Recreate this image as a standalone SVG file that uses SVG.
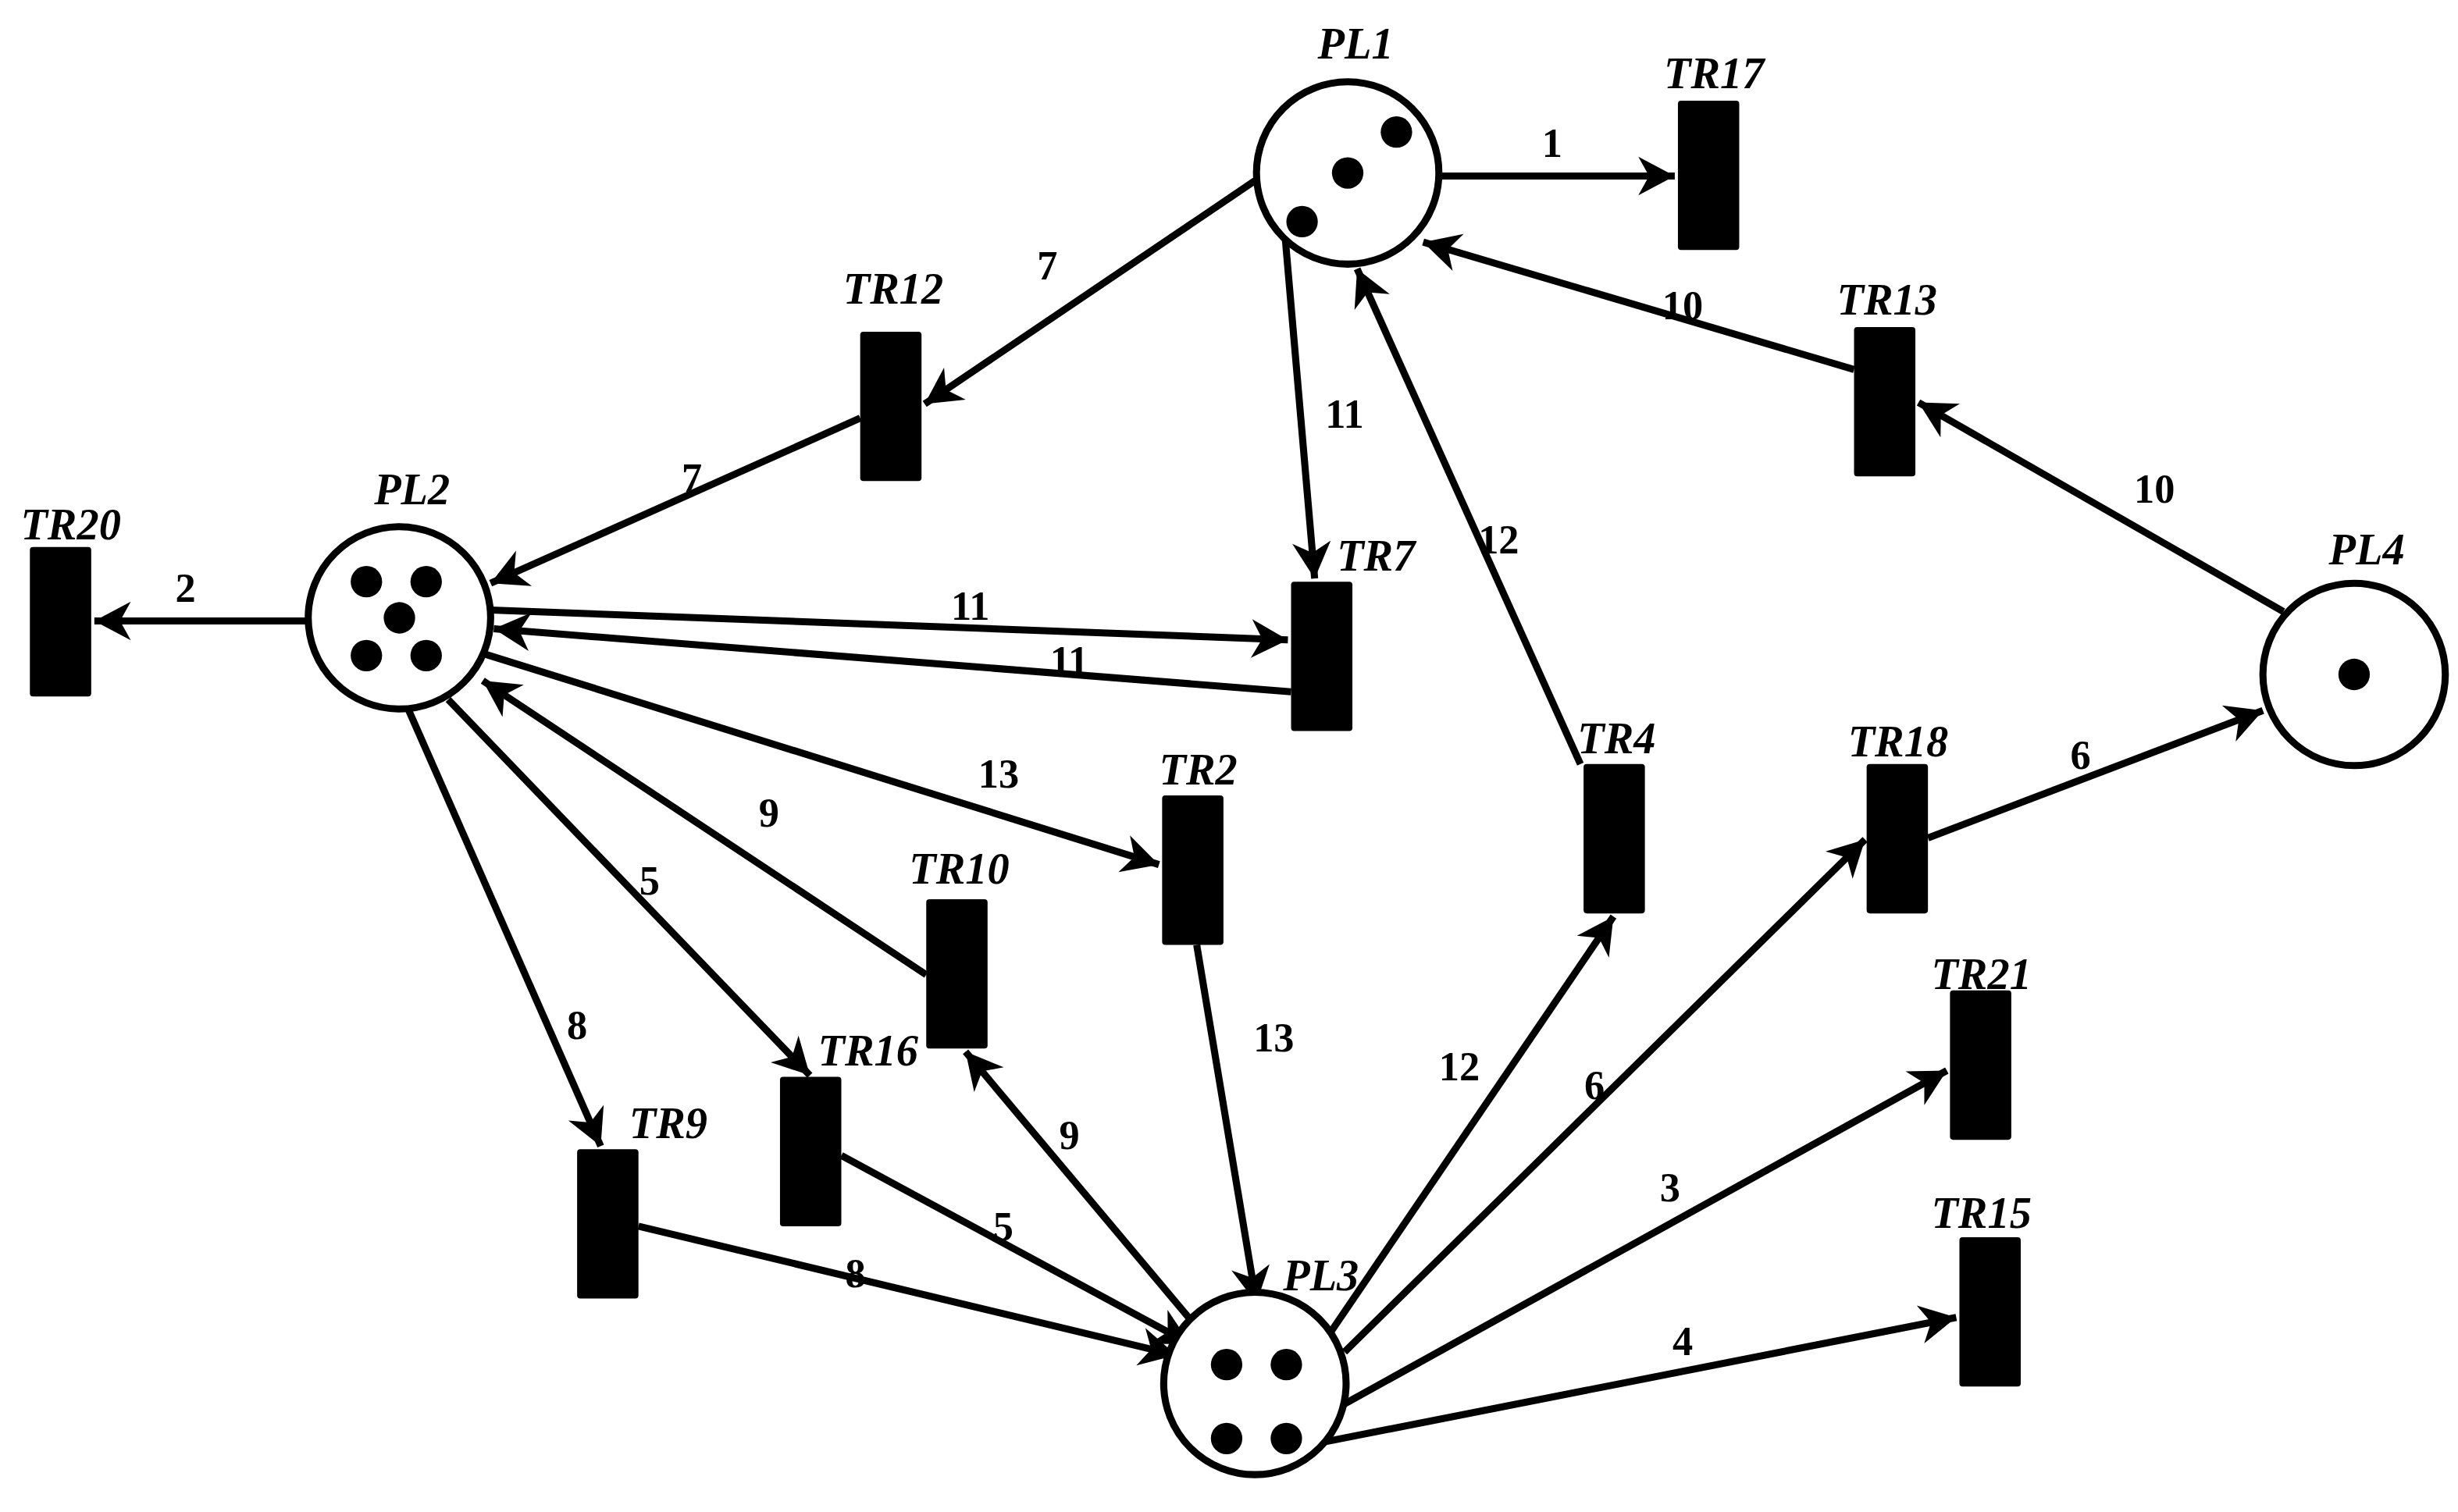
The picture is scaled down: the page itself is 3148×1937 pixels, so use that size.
<svg xmlns="http://www.w3.org/2000/svg" width="3148" height="1937" viewBox="0 0 3148 1937">
<style>
.pl{fill:#fff;stroke:#000;stroke-width:4.5}
.tk{fill:#000}
.tr{fill:#000}
.e{stroke:#000;stroke-width:4.5;fill:none;marker-end:url(#a)}
.n{font-family:"Liberation Serif",serif;font-style:italic;font-weight:bold;font-size:28px;text-anchor:middle}
.w{font-family:"Liberation Serif",serif;font-weight:bold;font-size:26px;text-anchor:middle}
</style>
<defs>
<marker id="a" markerUnits="userSpaceOnUse" markerWidth="30" markerHeight="30" viewBox="-20 -11 22 22" refX="0" refY="0" orient="auto">
<path d="M0,0 L-17,-9 L-12,0 L-17,9 Z" fill="#000"/>
</marker>
</defs>
<rect width="3148" height="1937" fill="#fff"/>
<g transform="scale(2.014)">
<g id="connectors">
<line class="e" x1="917" y1="112" x2="1065" y2="112"/>
<line class="e" x1="798" y1="115" x2="588" y2="257"/>
<line class="e" x1="547" y1="266" x2="312" y2="371"/>
<line class="e" x1="1179" y1="235" x2="905" y2="154"/>
<line class="e" x1="1452" y1="389" x2="1220" y2="256"/>
<line class="e" x1="817" y1="148" x2="836" y2="368"/>
<line class="e" x1="1005" y1="486" x2="863" y2="171"/>
<line class="e" x1="195" y1="395" x2="60" y2="395"/>
<line class="e" x1="312" y1="388" x2="819" y2="407"/>
<line class="e" x1="821" y1="440" x2="314" y2="400"/>
<line class="e" x1="305" y1="415" x2="737" y2="550"/>
<line class="e" x1="589" y1="620" x2="307" y2="433"/>
<line class="e" x1="285" y1="445" x2="515" y2="684"/>
<line class="e" x1="260" y1="452" x2="382" y2="729"/>
<line class="e" x1="406" y1="780" x2="748" y2="862"/>
<line class="e" x1="535" y1="735" x2="757" y2="855"/>
<line class="e" x1="760" y1="843" x2="614" y2="669"/>
<line class="e" x1="761" y1="601" x2="799" y2="829"/>
<line class="e" x1="843" y1="852" x2="1026" y2="583"/>
<line class="e" x1="855" y1="860" x2="1186" y2="534"/>
<line class="e" x1="1226" y1="533" x2="1439" y2="452"/>
<line class="e" x1="855" y1="893" x2="1238" y2="681"/>
<line class="e" x1="843" y1="917" x2="1244" y2="838"/>
<text class="w" x="987" y="100">1</text>
<text class="w" x="666" y="178">7</text>
<text class="w" x="440" y="313">7</text>
<text class="w" x="1070" y="203">10</text>
<text class="w" x="1370" y="320">10</text>
<text class="w" x="855" y="272">11</text>
<text class="w" x="953" y="352">12</text>
<text class="w" x="118" y="383">2</text>
<text class="w" x="617" y="394">11</text>
<text class="w" x="680" y="429">11</text>
<text class="w" x="635" y="501">13</text>
<text class="w" x="489" y="526">9</text>
<text class="w" x="413" y="569">5</text>
<text class="w" x="367" y="661">8</text>
<text class="w" x="544" y="819">8</text>
<text class="w" x="638" y="789">5</text>
<text class="w" x="680" y="731">9</text>
<text class="w" x="810" y="669">13</text>
<text class="w" x="928" y="687">12</text>
<text class="w" x="1014" y="699">6</text>
<text class="w" x="1323" y="489">6</text>
<text class="w" x="1062" y="764">3</text>
<text class="w" x="1070" y="862">4</text>
</g>
<g id="PL1"><circle class="pl" cx="857" cy="110" r="58"/><circle class="tk" cx="888" cy="84" r="10"/><circle class="tk" cx="857" cy="110" r="10"/><circle class="tk" cx="828" cy="141" r="10"/><text class="n" x="862" y="37">PL1</text></g>
<g id="PL2"><circle class="pl" cx="254" cy="393" r="58"/><circle class="tk" cx="233" cy="370" r="10"/><circle class="tk" cx="271" cy="370" r="10"/><circle class="tk" cx="254" cy="393" r="10"/><circle class="tk" cx="233" cy="417" r="10"/><circle class="tk" cx="271" cy="417" r="10"/><text class="n" x="262" y="321">PL2</text></g>
<g id="PL3"><circle class="pl" cx="798" cy="880" r="58"/><circle class="tk" cx="780" cy="868" r="10"/><circle class="tk" cx="818" cy="868" r="10"/><circle class="tk" cx="780" cy="915" r="10"/><circle class="tk" cx="818" cy="915" r="10"/><text class="n" x="840" y="821">PL3</text></g>
<g id="PL4"><circle class="pl" cx="1497" cy="429" r="58"/><circle class="tk" cx="1497" cy="429" r="10"/><text class="n" x="1505" y="359">PL4</text></g>
<g id="TR17"><rect class="tr" x="1067" y="64" width="39" height="95" rx="2"/><text class="n" x="1090" y="56">TR17</text></g>
<g id="TR12"><rect class="tr" x="547" y="211" width="39" height="95" rx="2"/><text class="n" x="568" y="193">TR12</text></g>
<g id="TR13"><rect class="tr" x="1179" y="208" width="39" height="95" rx="2"/><text class="n" x="1200" y="200">TR13</text></g>
<g id="TR20"><rect class="tr" x="19" y="348" width="39" height="95" rx="2"/><text class="n" x="45" y="343">TR20</text></g>
<g id="TR7"><rect class="tr" x="821" y="370" width="39" height="95" rx="2"/><text class="n" x="875" y="363">TR7</text></g>
<g id="TR2"><rect class="tr" x="739" y="506" width="39" height="95" rx="2"/><text class="n" x="762" y="499">TR2</text></g>
<g id="TR4"><rect class="tr" x="1007" y="486" width="39" height="95" rx="2"/><text class="n" x="1028" y="479">TR4</text></g>
<g id="TR18"><rect class="tr" x="1187" y="486" width="39" height="95" rx="2"/><text class="n" x="1207" y="481">TR18</text></g>
<g id="TR10"><rect class="tr" x="589" y="572" width="39" height="95" rx="2"/><text class="n" x="610" y="562">TR10</text></g>
<g id="TR16"><rect class="tr" x="496" y="685" width="39" height="95" rx="2"/><text class="n" x="552" y="678">TR16</text></g>
<g id="TR9"><rect class="tr" x="367" y="731" width="39" height="95" rx="2"/><text class="n" x="425" y="724">TR9</text></g>
<g id="TR21"><rect class="tr" x="1240" y="630" width="39" height="95" rx="2"/><text class="n" x="1260" y="629">TR21</text></g>
<g id="TR15"><rect class="tr" x="1246" y="787" width="39" height="95" rx="2"/><text class="n" x="1260" y="781">TR15</text></g>
</g>
</svg>
